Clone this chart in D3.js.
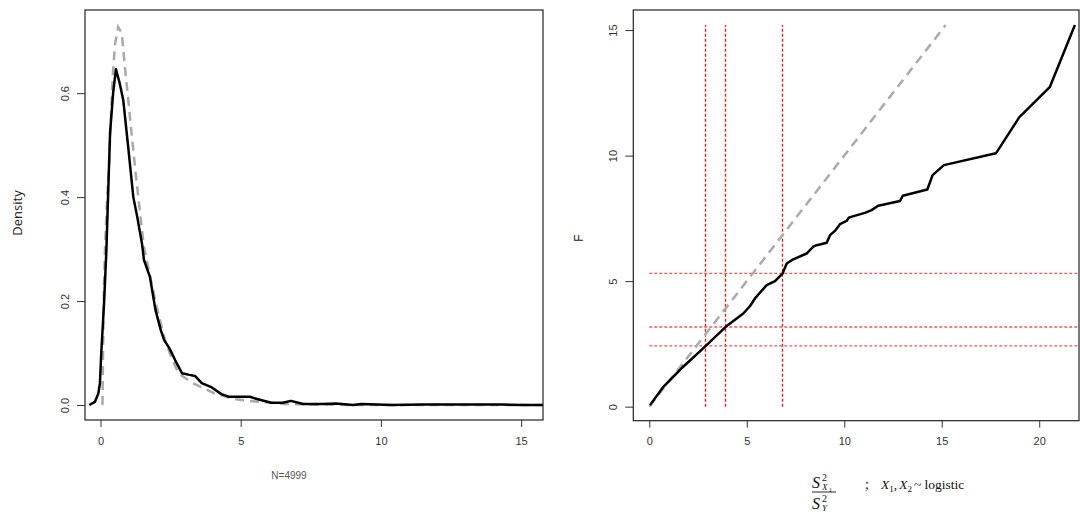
<!DOCTYPE html>
<html>
<head>
<meta charset="utf-8">
<script src="https://cdn.jsdelivr.net/npm/d3@7"></script>
<style>
  body { margin: 0; background: #fff; }
  svg { display: block; font-family: "Liberation Sans", Arial, sans-serif; }
</style>
</head>
<body>
<svg id="chart"></svg>
<script>
// left panel: kernel density (black) vs theoretical F density (gray dashed)
const densX = [-0.4, -0.2, -0.08, -0.02, 0.02, 0.13, 0.21, 0.34, 0.45, 0.55, 0.68, 0.81, 1.0, 1.17, 1.31, 1.48, 1.55, 1.76, 1.96, 2.15, 2.27, 2.46, 2.66, 2.91, 3.17, 3.37, 3.61, 3.93, 4.31, 4.57, 5.0, 5.33, 5.58, 6.09, 6.5, 6.79, 7.23, 7.9, 8.4, 9.0, 9.3, 10.4, 11.5, 13, 14.3, 15.1, 15.8];
const densY = [0, 0.006, 0.022, 0.042, 0.093, 0.2, 0.298, 0.523, 0.6, 0.646, 0.62, 0.587, 0.49, 0.40, 0.362, 0.31, 0.279, 0.247, 0.183, 0.144, 0.125, 0.109, 0.0865, 0.061, 0.058, 0.056, 0.042, 0.035, 0.021, 0.016, 0.016, 0.016, 0.0115, 0.0045, 0.0045, 0.008, 0.002, 0.002, 0.003, 0, 0.002, 0, 0.001, 0.001, 0.001, 0, 0];
const fX = [0.07, 0.09, 0.12, 0.16, 0.22, 0.31, 0.37, 0.43, 0.52, 0.63, 0.76, 0.87, 0.99, 1.11, 1.23, 1.41, 1.55, 1.8, 2.0, 2.27, 2.5, 2.78, 3.29, 4.06, 4.82, 5.58, 6.6, 8, 10, 15.8];
const fY = [0, 0.1, 0.22, 0.30, 0.38, 0.47, 0.55, 0.63, 0.695, 0.7275, 0.715, 0.65, 0.587, 0.522, 0.458, 0.369, 0.304, 0.24, 0.19, 0.131, 0.095, 0.061, 0.042, 0.0225, 0.011, 0.0065, 0.002, 0.0005, 0, 0];
const leftXTicks = [0, 5, 10, 15];
const leftYTicks = [0, 0.2, 0.4, 0.6];

// right panel: simulated quantiles (black) vs F quantiles (gray dashed)
const qqX = [0.04, 0.72, 1.74, 2.94, 3.92, 4.82, 5.16, 5.42, 6.02, 6.45, 6.84, 7.05, 7.38, 8.07, 8.41, 8.58, 8.75, 9.1, 9.27, 9.52, 9.78, 10.12, 10.26, 11.06, 11.4, 11.74, 12.86, 13.0, 14.26, 14.53, 15.11, 17.78, 18.97, 20.55, 21.83];
const qqY = [0.06, 0.79, 1.59, 2.45, 3.18, 3.71, 4.0, 4.31, 4.84, 5.0, 5.31, 5.7, 5.87, 6.1, 6.37, 6.43, 6.46, 6.53, 6.83, 7.0, 7.27, 7.4, 7.54, 7.72, 7.83, 8.0, 8.19, 8.4, 8.65, 9.22, 9.62, 10.09, 11.52, 12.74, 15.2];
const refX = [0, 15.2];
const refY = [0, 15.2];
const vLines = [2.87, 3.90, 6.82];   // vertical red dashed
const hLines = [2.42, 3.17, 5.31];   // horizontal red dashed
const vTop = 15.2;
const rightXTicks = [0, 5, 10, 15, 20];
const rightYTicks = [0, 5, 10, 15];

const W = 1080, H = 515;
const svg = d3.select('#chart').attr('width', W).attr('height', H);

const line = (xs, ys, x, y) => d3.line().x((d, i) => x(xs[i])).y((d, i) => y(ys[i]))(xs);

function frame(g, x, y, xt, yt, xfmt, yfmt) {
  const bx = x.range(), by = y.range();
  const xa = g.append('g')
    .attr('transform', `translate(0,${by[0]})`)
    .call(d3.axisBottom(x).tickValues(xt).tickFormat(xfmt).tickSize(7).tickSizeOuter(0).tickPadding(10));
  const ya = g.append('g')
    .attr('transform', `translate(${bx[0]},0)`)
    .call(d3.axisLeft(y).tickValues(yt).tickFormat(yfmt).tickSize(8).tickSizeOuter(0));
  [xa, ya].forEach(a => {
    a.select('.domain').remove();
    a.selectAll('line').attr('stroke', '#333');
    a.selectAll('text').attr('fill', '#333').attr('font-size', 11);
  });
  ya.selectAll('text')
    .attr('transform', 'rotate(-90)')
    .attr('x', 0).attr('y', -20).attr('dy', '0.35em')
    .attr('text-anchor', 'middle');
  g.append('rect')
    .attr('x', bx[0]).attr('y', by[1])
    .attr('width', bx[1] - bx[0]).attr('height', by[0] - by[1])
    .attr('fill', 'none').attr('stroke', '#222').attr('stroke-width', 1.2);
}

// ---- left panel
const xL = d3.scaleLinear().domain([-0.553, 15.78]).range([85, 543]);
const yL = d3.scaleLinear().domain([-0.0288, 0.76]).range([420, 10]);
const gL = svg.append('g');
svg.append('clipPath').attr('id', 'clipL').append('rect')
  .attr('x', 85).attr('y', 10).attr('width', 458).attr('height', 410);

gL.append('path')
  .attr('d', line(fX, fY, xL, yL))
  .attr('clip-path', 'url(#clipL)')
  .attr('fill', 'none').attr('stroke', '#aaaaaa').attr('stroke-width', 2.5)
  .attr('stroke-dasharray', '9,6');
gL.append('path')
  .attr('d', line(densX, densY, xL, yL))
  .attr('clip-path', 'url(#clipL)')
  .attr('fill', 'none').attr('stroke', '#000').attr('stroke-width', 2.5)
  .attr('stroke-linejoin', 'round');

frame(gL, xL, yL, leftXTicks, leftYTicks, d3.format('d'), d3.format('.1f'));

svg.append('text')
  .attr('transform', 'translate(22,213) rotate(-90)')
  .attr('text-anchor', 'middle')
  .attr('font-family', '"Open Sans", "DejaVu Sans", sans-serif')
  .attr('font-size', 13).attr('fill', '#222')
  .text('Density');
svg.append('text')
  .attr('x', 289).attr('y', 479)
  .attr('text-anchor', 'middle')
  .attr('font-size', 10).attr('fill', '#555')
  .text('N=4999');

// ---- right panel
const xR = d3.scaleLinear().domain([-0.82, 22.04]).range([633.3, 1079]);
const yR = d3.scaleLinear().domain([-0.56, 15.8]).range([420.7, 10]);
const gR = svg.append('g');

gR.selectAll('line.v')
  .data(vLines)
  .enter().append('line')
  .attr('class', 'v')
  .attr('x1', d => Math.round(xR(d)) + 0.5).attr('x2', d => Math.round(xR(d)) + 0.5)
  .attr('y1', yR(0)).attr('y2', yR(vTop))
  .attr('stroke', '#f01010').attr('stroke-width', 1.3)
  .attr('stroke-dasharray', '3,2');
gR.selectAll('line.h')
  .data(hLines)
  .enter().append('line')
  .attr('class', 'h')
  .attr('x1', xR(0)).attr('x2', xR.range()[1])
  .attr('y1', d => yR(d)).attr('y2', d => yR(d))
  .attr('stroke', '#f05858').attr('stroke-width', 1.4)
  .attr('stroke-dasharray', '3,2');

gR.append('path')
  .attr('d', line(refX, refY, xR, yR))
  .attr('fill', 'none').attr('stroke', '#aaaaaa').attr('stroke-width', 2.5)
  .attr('stroke-dasharray', '9,6');
gR.append('path')
  .attr('d', line(qqX, qqY, xR, yR))
  .attr('fill', 'none').attr('stroke', '#000').attr('stroke-width', 2.5)
  .attr('stroke-linejoin', 'round');

frame(gR, xR, yR, rightXTicks, rightYTicks, d3.format('d'), d3.format('d'));

svg.append('text')
  .attr('transform', 'translate(583,238) rotate(-90)')
  .attr('text-anchor', 'middle')
  .attr('font-size', 12).attr('fill', '#222')
  .text('F');

// x label: S^2_{X1} / S^2_{Y} ; X1, X2 ~ logistic
const lab = svg.append('g')
  .attr('font-family', '"Liberation Serif", "Times New Roman", serif')
  .attr('fill', '#111');
function mathS(x0, base, sub, subsub) {
  lab.append('text').attr('x', x0).attr('y', base).attr('font-size', 16)
    .attr('font-style', 'italic').text('S');
  lab.append('text').attr('x', x0 + 10).attr('y', base - 7).attr('font-size', 10).text('2');
  lab.append('text').attr('x', x0 + 10).attr('y', base + 2).attr('font-size', 9)
    .attr('font-style', 'italic').text(sub);
  if (subsub) lab.append('text').attr('x', x0 + 17).attr('y', base + 4).attr('font-size', 6).text(subsub);
}
mathS(812, 488, 'X', '1');
lab.append('line').attr('x1', 812).attr('x2', 836).attr('y1', 492).attr('y2', 492)
  .attr('stroke', '#111').attr('stroke-width', 0.9);
mathS(812, 509, 'Y', null);
lab.append('text').attr('x', 865).attr('y', 489).attr('font-size', 14).text(';');
const t = lab.append('text').attr('x', 881).attr('y', 489).attr('font-size', 13.5);
t.append('tspan').attr('font-style', 'italic').text('X');
t.append('tspan').attr('font-size', 9).attr('dy', 3).text('1');
t.append('tspan').attr('dy', -3).text(',');
t.append('tspan').attr('dx', 2).attr('font-style', 'italic').text('X');
t.append('tspan').attr('font-size', 9).attr('dy', 3).text('2');
t.append('tspan').attr('dy', -3).attr('dx', 2).text('~ logistic');
</script>
</body>
</html>
